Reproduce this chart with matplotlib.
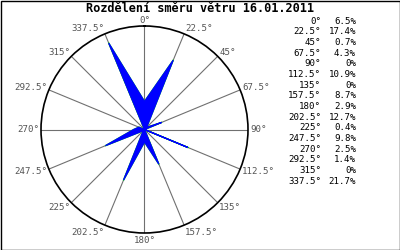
import numpy as np
import matplotlib
matplotlib.use("Agg")
import matplotlib.pyplot as plt
from matplotlib.patches import Rectangle

title = "Rozdělení směru větru 16.01.2011"
directions = [0, 22.5, 45, 67.5, 90, 112.5, 135, 157.5,
              180, 202.5, 225, 247.5, 270, 292.5, 315, 337.5]
percent = [6.5, 17.4, 0.7, 4.3, 0, 10.9, 0, 8.7,
           2.9, 12.7, 0.4, 9.8, 2.5, 1.4, 0, 21.7]
rmax = 24

W, H = 400, 250
fig = plt.figure(figsize=(W / 100, H / 100), dpi=100)
fig.patch.set_facecolor("white")

cx, cy, R = 144.5, 129.5, 103.5
ax = fig.add_axes([(cx - R) / W, (H - cy - R) / H, 2 * R / W, 2 * R / H],
                  projection="polar")
ax.set_theta_zero_location("N")
ax.set_theta_direction(-1)
ax.set_ylim(0, rmax)
ax.set_yticks([])
ax.set_xticks(np.deg2rad(directions))
ax.set_xticklabels([])
ax.tick_params(axis="x", length=0)
ax.grid(True, axis="x", color="#707070", linewidth=0.8)
ax.grid(False, axis="y")
ax.spines["polar"].set_color("black")
ax.spines["polar"].set_linewidth(1.2)
ax.set_facecolor("white")

theta = np.deg2rad(directions + [directions[0]])
rr = percent + [percent[0]]
ax.plot(theta, rr, color="#00dd00", linewidth=1.0, zorder=3)
ax.fill(theta, rr, facecolor="#0000ff", edgecolor="#0000ff", linewidth=0.9, zorder=4)

mono = "DejaVu Sans Mono"
for a in directions:
    s, c = np.sin(np.deg2rad(a)), np.cos(np.deg2rad(a))
    if abs(s) < 1e-6:
        ha = "center"
        dx = 0
    elif s > 0:
        ha = "left"
        dx = 2 * s
    else:
        ha = "right"
        dx = 2 * s
    k = 6 if c > 0 else 7.5
    dy = c * k  # upward in pixels
    ax.annotate(f"{a:g}°", xy=(np.deg2rad(a), rmax), xytext=(dx * 0.72, dy * 0.72),
                textcoords="offset points", ha=ha, va="center",
                fontsize=6.6, family=mono, color="#555555", annotation_clip=False)

fig.text(200 / W, 1 - 9 / H, title, ha="center", va="center",
         fontsize=8.6, family=mono, fontweight="bold", color="black")

y0, y1 = 21, 181
for i, (a, p) in enumerate(zip(directions, percent)):
    y = y0 + (y1 - y0) * i / (len(directions) - 1)
    fig.text(321 / W, 1 - y / H, f"{a:g}°", ha="right", va="center",
             fontsize=6.6, family=mono, color="black")
    fig.text(356 / W, 1 - y / H, f"{p:g}%", ha="right", va="center",
             fontsize=6.6, family=mono, color="black")

fig.add_artist(Rectangle((0.5 / W, 0.5 / H), (W - 1) / W, (H - 1) / H,
                         transform=fig.transFigure, fill=False,
                         edgecolor="black", linewidth=1))

fig.savefig("out.png", dpi=100, facecolor="white")
